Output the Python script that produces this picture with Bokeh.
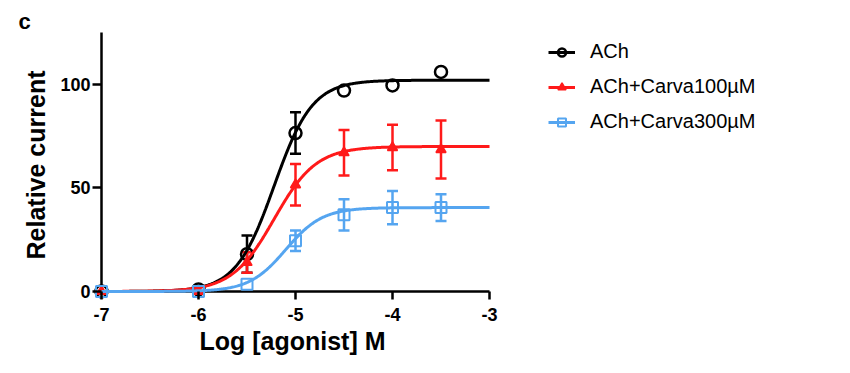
import numpy as np
from bokeh.plotting import figure
from bokeh.models import (ColumnDataSource, Whisker, TeeHead, Legend, LegendItem,
                          FixedTicker, Range1d)
from bokeh.embed import file_html
from bokeh.resources import INLINE

# ---- data ----
log_conc = [-7.0, -6.0, -5.5, -5.0, -4.5, -4.0, -3.5]

ach_mean = [0.0, 1.0, 18.0, 76.5, 97.0, 99.5, 106.0]
ach_err = [0.0, 0.0, 9.0, 10.0, 0.0, 0.0, 0.0]

c100_mean = [0.0, 0.0, 14.0, 51.5, 67.0, 69.5, 68.5]
c100_err = [0.0, 0.0, 5.0, 10.0, 11.0, 11.0, 14.0]

c300_mean = [0.0, 0.0, 3.5, 24.5, 37.0, 40.5, 40.5]
c300_err = [0.0, 0.0, 0.0, 5.0, 7.5, 8.0, 6.5]

# Hill fit parameters (top, logEC50, hill slope)
ach_fit = (102.0, -5.22, 2.2)
c100_fit = (70.0, -5.22, 2.0)
c300_fit = (40.5, -5.10, 2.3)

labels = ["ACh", "ACh+Carva100\u00b5M", "ACh+Carva300\u00b5M"]
colors = ["#000000", "#ff1a1a", "#55a5f0"]

x_ticks = [-7, -6, -5, -4, -3]
x_tick_labels = ["-7", "-6", "-5", "-4", "-3"]
y_ticks = [0, 50, 100]
y_tick_labels = ["0", "50", "100"]
x_axis_span = (-7, -3)
y_axis_span = (0, 125)

FONT = "Liberation Sans"

p = figure(frame_width=398, frame_height=269, output_backend="svg",
           toolbar_location=None,
           x_range=Range1d(-7.0825, -2.9794), y_range=Range1d(-3.87, 126),
           min_border_left=93, min_border_right=351, min_border_top=30,
           min_border_bottom=66)
p.outline_line_color = None
p.grid.visible = False

p.title.text = "c"
p.title.align = "left"
p.title.offset = -75
p.title.standoff = -7
p.title.text_font = FONT
p.title.text_font_style = "bold"
p.title.text_font_size = "22px"
p.title.text_color = "black"

# axis lines drawn at y = 0 and x = -7
p.segment(x0=[x_axis_span[0]], y0=[0], x1=[x_axis_span[1]], y1=[0],
          line_color="black", line_width=2.5)
p.segment(x0=[x_axis_span[0]], y0=[y_axis_span[0]], x1=[x_axis_span[0]],
          y1=[y_axis_span[1]], line_color="black", line_width=2.5)

xs = np.linspace(-7.0, -3.0, 400)

def hill(params):
    top, ec50, n = params
    return top / (1.0 + 10 ** ((ec50 - xs) * n))

series = [
    (ach_mean, ach_err, ach_fit, "circle", 12, 2.5),
    (c100_mean, c100_err, c100_fit, "triangle", 10, 1.5),
    (c300_mean, c300_err, c300_fit, "square", 11, 2.0),
]

items = []
for (mean, err, fit, marker, size, lw), lab, col in zip(series, labels, colors):
    line_r = p.line(xs, hill(fit), line_color=col, line_width=3)
    fill = None if marker != "triangle" else col
    sc = p.scatter(log_conc, mean, marker=marker, size=size, line_color=col,
                   fill_color=fill, line_width=lw)
    ex = [x for x, e in zip(log_conc, err) if e > 0]
    em = [m for m, e in zip(mean, err) if e > 0]
    ee = [e for e in err if e > 0]
    if ex:
        src = ColumnDataSource(dict(x=ex, lo=[m - e for m, e in zip(em, ee)],
                                    hi=[m + e for m, e in zip(em, ee)]))
        w = Whisker(base="x", upper="hi", lower="lo", source=src,
                    line_color=col, line_width=2.5,
                    upper_head=TeeHead(size=11, line_color=col, line_width=2.5),
                    lower_head=TeeHead(size=11, line_color=col, line_width=2.5))
        p.add_layout(w)
    items.append(LegendItem(label=lab, renderers=[line_r, sc]))

# axes (lines hidden; ticks reach from the drawn axis lines)
p.xaxis.bounds = x_axis_span
p.yaxis.bounds = y_axis_span
p.xaxis.ticker = FixedTicker(ticks=x_ticks)
p.yaxis.ticker = FixedTicker(ticks=y_ticks)
p.xaxis.major_label_overrides = {t: s for t, s in zip(x_ticks, x_tick_labels)}
p.yaxis.major_label_overrides = {t: s for t, s in zip(y_ticks, y_tick_labels)}
for ax in (p.xaxis, p.yaxis):
    ax.axis_line_color = None
    ax.major_tick_line_width = 2.5
    ax.major_tick_line_color = "black"
    ax.minor_tick_line_color = None
    ax.major_tick_in = 8
    ax.major_label_text_font = FONT
    ax.major_label_text_font_style = "bold"
    ax.major_label_text_font_size = "18px"
    ax.major_label_text_color = "black"
    ax.axis_label_text_font = FONT
    ax.axis_label_text_font_style = "bold"
    ax.axis_label_text_font_size = "25px"
    ax.axis_label_text_color = "black"
p.xaxis.major_tick_out = 0
p.yaxis.major_tick_out = 1
p.xaxis.major_label_standoff = 8
p.yaxis.major_label_standoff = 2
p.xaxis.axis_label = "Log [agonist] M"
p.yaxis.axis_label = "Relative current"
p.xaxis.axis_label_standoff = 3
p.yaxis.axis_label_standoff = 7

legend = Legend(items=items, location=(57, 166), border_line_color=None,
                background_fill_alpha=0, padding=0, margin=0,
                glyph_width=27, glyph_height=20, label_height=20,
                label_standoff=15, spacing=12,
                label_text_font=FONT, label_text_font_size="20px",
                label_text_color="black")
p.add_layout(legend, "right")

open("out.html", "w").write(file_html(p, INLINE))
